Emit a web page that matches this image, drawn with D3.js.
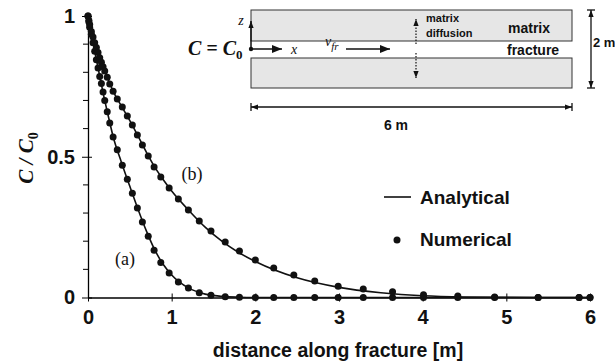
<!DOCTYPE html>
<html>
<head>
<meta charset="utf-8">
<script src="https://cdn.jsdelivr.net/npm/d3@7"></script>
<style>
  body { margin: 0; background: #fff; }
  svg text { font-family: "Liberation Sans", Arial, sans-serif; fill: #111; }
  .serif { font-family: "Liberation Serif", "Times New Roman", serif; }
</style>
</head>
<body>
<svg id="chart" width="615" height="362"></svg>
<script>
// numerical solution nodes (m) - same grid for both runs
const gridX = [0, 0.01, 0.02, 0.04, 0.06, 0.08, 0.1, 0.12, 0.14, 0.16, 0.18, 0.2, 0.23, 0.26, 0.3, 0.35,
  0.41, 0.47, 0.53, 0.59, 0.65, 0.72, 0.79, 0.87, 0.97, 1.08, 1.2, 1.33, 1.47, 1.64, 1.81, 2.0,
  2.22, 2.46, 2.71, 2.99, 3.29, 3.64, 4.01, 4.42, 4.86, 5.38, 5.87, 6.0];
const numA = [1.0, 0.98, 0.96, 0.935, 0.905, 0.875, 0.845, 0.815, 0.785, 0.76, 0.73, 0.70, 0.66, 0.62, 0.57, 0.525,
  0.47, 0.42, 0.37, 0.318, 0.268, 0.218, 0.168, 0.124, 0.087, 0.055, 0.034, 0.017, 0.008, 0.003, 0.001, 0,
  0, 0, 0, 0, 0, 0, 0, 0, 0, 0, 0, 0];
const numB = [1.0, 0.985, 0.97, 0.945, 0.925, 0.905, 0.888, 0.87, 0.852, 0.836, 0.82, 0.805, 0.782, 0.758, 0.733, 0.705,
  0.677, 0.645, 0.613, 0.577, 0.542, 0.503, 0.464, 0.428, 0.389, 0.35, 0.311, 0.272, 0.236, 0.197, 0.165, 0.133,
  0.105, 0.08, 0.059, 0.04, 0.03, 0.02, 0.01, 0.005, 0.002, 0, 0, 0];

// analytical solution
const lineX = [0, 0.05, 0.1, 0.15, 0.2, 0.25, 0.3, 0.4, 0.5, 0.6, 0.7, 0.8, 0.9, 1.0, 1.2, 1.4, 1.6, 1.8, 2.0,
  2.5, 3.0, 3.5, 4.0, 4.5, 5.0, 5.5, 6.0];
const anaA = [1.0, 0.92, 0.845, 0.772, 0.70, 0.635, 0.572, 0.48, 0.395, 0.312, 0.235, 0.168, 0.117, 0.08, 0.034,
  0.012, 0.004, 0.001, 0, 0, 0, 0, 0, 0, 0, 0, 0];
const anaB = [1.0, 0.935, 0.888, 0.844, 0.805, 0.768, 0.733, 0.68, 0.628, 0.572, 0.515, 0.462, 0.418, 0.378, 0.311,
  0.25, 0.2, 0.16, 0.128, 0.07, 0.036, 0.017, 0.006, 0.002, 0.001, 0, 0];

const xTicks = [0, 1, 2, 3, 4, 5, 6];
const yTicks = [0, 0.5, 1];
const yMinor = [0.1, 0.2, 0.3, 0.4, 0.6, 0.7, 0.8, 0.9];
const yTickLabels = ["0", "0.5", "1"];

const svg = d3.select("#chart");
const margin = {top: 16, right: 25, bottom: 64.5, left: 88};
const width = 615 - margin.left - margin.right,
      height = 362 - margin.top - margin.bottom;

const x = d3.scaleLinear().domain([0, 6]).range([0, width]);
const y = d3.scaleLinear().domain([0, 1]).range([height, 0]);

const g = svg.append("g").attr("transform", "translate(" + margin.left + "," + margin.top + ")");

// x axis, ticks crossing the line
const xAxis = g.append("g")
    .attr("transform", "translate(0," + height + ")")
    .call(d3.axisBottom(x).tickValues(xTicks).tickSize(4).tickPadding(8).tickFormat(d3.format("d")).tickSizeOuter(0));
xAxis.selectAll(".tick line").attr("y1", -4).attr("y2", 4);
xAxis.select(".domain").attr("stroke-width", 1.3);
xAxis.selectAll("text").attr("font-size", 20).attr("font-weight", "bold")
    .attr("font-family", "'Liberation Sans', Arial, sans-serif").attr("fill", "#111");

// y axis
const yAxis = g.append("g")
    .call(d3.axisLeft(y).tickValues(yTicks).tickSize(6).tickPadding(7).tickSizeOuter(0)
      .tickFormat((d, i) => yTickLabels[i]));
yAxis.select(".domain").attr("stroke-width", 1.3);
yAxis.selectAll("text").attr("font-size", 20).attr("font-weight", "bold")
    .attr("font-family", "'Liberation Sans', Arial, sans-serif").attr("fill", "#111");
yAxis.selectAll(".tick line").attr("x1", -6).attr("x2", 4);
g.selectAll(".minor").data(yMinor).join("line")
    .attr("class", "minor")
    .attr("x1", -5).attr("x2", 0)
    .attr("y1", d => y(d)).attr("y2", d => y(d))
    .attr("stroke", "#000");

// axis titles
svg.append("text")
    .attr("x", 338).attr("y", 357)
    .attr("text-anchor", "middle")
    .attr("font-size", 19.5).attr("font-weight", "bold")
    .text("distance along fracture [m]");

const yl = svg.append("text")
    .attr("class", "serif")
    .attr("transform", "translate(33,158) rotate(-90)")
    .attr("text-anchor", "middle")
    .attr("font-size", 21).attr("font-weight", "bold").attr("font-style", "italic");
yl.append("tspan").text("C / C");
yl.append("tspan").attr("dy", 5).attr("font-size", 14).attr("font-style", "normal").text("0");

// analytical curves
const line = d3.line()
    .x((d, i) => x(lineX[i]))
    .y(d => y(d))
    .curve(d3.curveMonotoneX);

[anaA, anaB].forEach(s => {
  g.append("path")
      .datum(s)
      .attr("fill", "none")
      .attr("stroke", "#111")
      .attr("stroke-width", 1.6)
      .attr("d", line);
});

// numerical points
[numA, numB].forEach(s => {
  g.append("g").selectAll("circle").data(s).join("circle")
      .attr("cx", (d, i) => x(gridX[i]))
      .attr("cy", d => y(d))
      .attr("r", 3.5)
      .attr("fill", "#111");
});

// curve labels
svg.append("text").attr("class", "serif").attr("x", 192).attr("y", 180)
    .attr("text-anchor", "middle").attr("font-size", 18).text("(b)");
svg.append("text").attr("class", "serif").attr("x", 125).attr("y", 265)
    .attr("text-anchor", "middle").attr("font-size", 18).text("(a)");

// legend
svg.append("line").attr("x1", 384).attr("x2", 411).attr("y1", 197).attr("y2", 197)
    .attr("stroke", "#111").attr("stroke-width", 1.6);
svg.append("text").attr("x", 420).attr("y", 204).attr("font-size", 19).attr("font-weight", "bold").text("Analytical");
svg.append("circle").attr("cx", 397).attr("cy", 240).attr("r", 3.5).attr("fill", "#111");
svg.append("text").attr("x", 420).attr("y", 246).attr("font-size", 19).attr("font-weight", "bold").text("Numerical");

// ---- inset schematic ----
const defs = svg.append("defs");
defs.append("marker").attr("id", "arr")
    .attr("viewBox", "0 0 10 8").attr("refX", 10).attr("refY", 4)
    .attr("markerWidth", 10).attr("markerHeight", 8).attr("markerUnits", "userSpaceOnUse")
    .attr("orient", "auto")
  .append("path").attr("d", "M0,0L10,4L0,8Z").attr("fill", "#111");
defs.append("marker").attr("id", "arrs")
    .attr("viewBox", "0 0 8 6").attr("refX", 8).attr("refY", 3)
    .attr("markerWidth", 7).attr("markerHeight", 6).attr("markerUnits", "userSpaceOnUse")
    .attr("orient", "auto")
  .append("path").attr("d", "M0,0L8,3L0,6Z").attr("fill", "#111");

const inset = svg.append("g");
inset.append("rect").attr("x", 251).attr("y", 10).attr("width", 321).attr("height", 31)
    .attr("fill", "#e6e6e6").attr("stroke", "#333").attr("stroke-width", 1);
inset.append("rect").attr("x", 251).attr("y", 58).attr("width", 321).attr("height", 30)
    .attr("fill", "#e6e6e6").attr("stroke", "#333").attr("stroke-width", 1);

// coordinate arrows
inset.append("line").attr("x1", 251).attr("y1", 49).attr("x2", 251).attr("y2", 21)
    .attr("stroke", "#111").attr("stroke-width", 1.5).attr("marker-end", "url(#arrs)");
inset.append("line").attr("x1", 251).attr("y1", 49).attr("x2", 282).attr("y2", 49)
    .attr("stroke", "#111").attr("stroke-width", 1.5).attr("marker-end", "url(#arr)");
inset.append("circle").attr("cx", 251).attr("cy", 49).attr("r", 2.2).attr("fill", "#111");
inset.append("text").attr("class", "serif").attr("x", 241).attr("y", 25)
    .attr("font-size", 14).attr("font-style", "italic").attr("text-anchor", "middle").text("z");
inset.append("text").attr("class", "serif").attr("x", 291).attr("y", 54)
    .attr("font-size", 14).attr("font-style", "italic").text("x");

const c0 = inset.append("text").attr("class", "serif").attr("x", 188).attr("y", 55)
    .attr("font-size", 20).attr("font-weight", "bold").attr("font-style", "italic");
c0.append("tspan").text("C = C");
c0.append("tspan").attr("dy", 4).attr("font-size", 13).attr("font-style", "normal").text("0");

const vf = inset.append("text").attr("class", "serif").attr("x", 325).attr("y", 46)
    .attr("font-size", 14).attr("font-style", "italic");
vf.append("tspan").text("v");
vf.append("tspan").attr("dy", 4).attr("font-size", 11).text("fr");
inset.append("line").attr("x1", 346).attr("y1", 49).attr("x2", 390).attr("y2", 49)
    .attr("stroke", "#111").attr("stroke-width", 1.5).attr("marker-end", "url(#arr)");

// matrix diffusion arrows (dotted)
inset.append("line").attr("x1", 416).attr("y1", 44).attr("x2", 416).attr("y2", 19)
    .attr("stroke", "#111").attr("stroke-width", 1.2).attr("stroke-dasharray", "1.5,1.5")
    .attr("marker-end", "url(#arrs)");
inset.append("line").attr("x1", 416).attr("y1", 53).attr("x2", 416).attr("y2", 78)
    .attr("stroke", "#111").attr("stroke-width", 1.2).attr("stroke-dasharray", "1.5,1.5")
    .attr("marker-end", "url(#arrs)");
inset.append("text").attr("x", 426).attr("y", 22).attr("font-size", 11).attr("font-weight", "bold").text("matrix");
inset.append("text").attr("x", 426).attr("y", 37).attr("font-size", 11).attr("font-weight", "bold").text("diffusion");
inset.append("text").attr("x", 508).attr("y", 33).attr("font-size", 14).attr("font-weight", "bold").text("matrix");
inset.append("text").attr("x", 507).attr("y", 55).attr("font-size", 14).attr("font-weight", "bold").text("fracture");

// dimension lines
inset.append("line").attr("x1", 411).attr("y1", 107).attr("x2", 251).attr("y2", 107)
    .attr("stroke", "#111").attr("stroke-width", 1.3).attr("marker-end", "url(#arrs)");
inset.append("line").attr("x1", 411).attr("y1", 107).attr("x2", 572).attr("y2", 107)
    .attr("stroke", "#111").attr("stroke-width", 1.3).attr("marker-end", "url(#arrs)");
inset.append("line").attr("x1", 251).attr("y1", 103).attr("x2", 251).attr("y2", 111).attr("stroke", "#111").attr("stroke-width", 1.3);
inset.append("line").attr("x1", 572).attr("y1", 103).attr("x2", 572).attr("y2", 111).attr("stroke", "#111").attr("stroke-width", 1.3);
inset.append("text").attr("x", 396).attr("y", 130).attr("text-anchor", "middle")
    .attr("font-size", 14).attr("font-weight", "bold").text("6 m");

inset.append("line").attr("x1", 591).attr("y1", 49).attr("x2", 591).attr("y2", 10)
    .attr("stroke", "#111").attr("stroke-width", 1.3).attr("marker-end", "url(#arrs)");
inset.append("line").attr("x1", 591).attr("y1", 49).attr("x2", 591).attr("y2", 88)
    .attr("stroke", "#111").attr("stroke-width", 1.3).attr("marker-end", "url(#arrs)");
inset.append("line").attr("x1", 587).attr("y1", 10).attr("x2", 595).attr("y2", 10).attr("stroke", "#111").attr("stroke-width", 1.3);
inset.append("line").attr("x1", 587).attr("y1", 88).attr("x2", 595).attr("y2", 88).attr("stroke", "#111").attr("stroke-width", 1.3);
inset.append("text").attr("x", 593).attr("y", 47)
    .attr("font-size", 13).attr("font-weight", "bold").text("2 m");
</script>
</body>
</html>
